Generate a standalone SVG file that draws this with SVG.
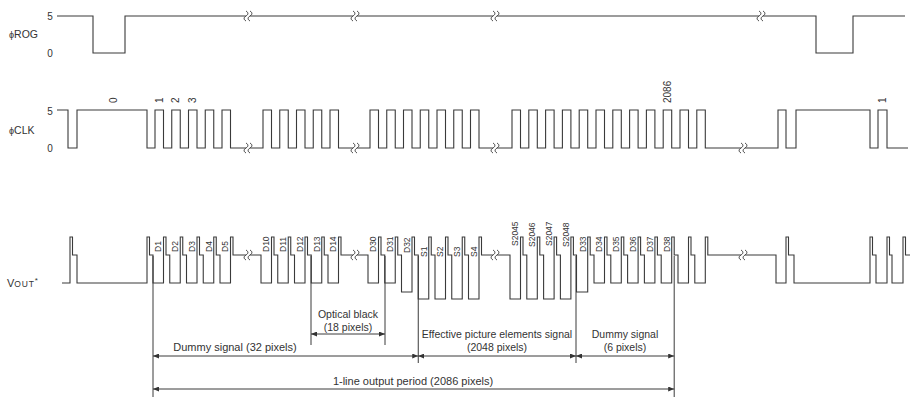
<svg xmlns="http://www.w3.org/2000/svg" width="912" height="398" viewBox="0 0 912 398">
<style>
.w{fill:none;stroke:#3a3a3a;stroke-width:1.1;stroke-linejoin:miter}
.t{font-family:"Liberation Sans",Arial,sans-serif;fill:#333}
.lv{font-size:10px;text-anchor:middle}
.sig{font-size:10.5px}
.n{font-size:10px}
.p{font-size:8.5px}
.dim{font-size:10.5px;text-anchor:middle}
.br{fill:none;stroke:#3a3a3a;stroke-width:1}
.gap{fill:#fff;stroke:none}
.ext{stroke:#3a3a3a;stroke-width:1}
.arr{stroke:#3a3a3a;stroke-width:1;marker-start:url(#ah);marker-end:url(#ah)}
</style>
<defs>
<marker id="ah" viewBox="0 0 6 5" refX="6" refY="2.5" markerWidth="6" markerHeight="5" markerUnits="userSpaceOnUse" orient="auto-start-reverse"><path d="M0,0 L6,2.5 L0,5 z" fill="#333"/></marker>
<g id="brk"><rect class="gap" x="-2.2" y="-2" width="4.4" height="4"/><path class="br" d="M-2,-5 c2.5,1.5 2.5,3.5 0,5 c-2.5,1.5 -2.5,3.5 0,5 M2,-5 c2.5,1.5 2.5,3.5 0,5 c-2.5,1.5 -2.5,3.5 0,5"/></g>
</defs>
<rect width="912" height="398" fill="#fff"/>

<g id="rog">
<text class="t sig" x="9" y="38"><tspan font-size="9">ϕ</tspan>ROG</text>
<text class="t lv" x="50" y="19.6">5</text>
<text class="t lv" x="50" y="56.6">0</text>
<path class="w" d="M57,16 H93 V53 H125 V16 H816 V53 H853 V16 H905"/>
<use href="#brk" x="248" y="16"/><use href="#brk" x="355" y="16"/><use href="#brk" x="495" y="16"/><use href="#brk" x="761" y="16"/>
</g>

<g id="clk">
<text class="t sig" x="9" y="134"><tspan font-size="9">ϕ</tspan>CLK</text>
<text class="t lv" x="50" y="114.6">5</text>
<text class="t lv" x="50" y="151.6">0</text>
<path class="w" d="M57,110 H68 V148 H77 V110 H147 V148
H155 V110 H163.5 V148 H171.75 V110 H180.25 V148 H188.5 V110 H197 V148 H205.25 V110 H213.75 V148 H222 V110 H230.5 V148
H263 V110 H271.5 V148 H279.75 V110 H288.25 V148 H296.5 V110 H305 V148 H313.25 V110 H321.75 V148 H330 V110 H338.5 V148
H370 V110 H378.5 V148 H386.75 V110 H395.25 V148 H403.5 V110 H412 V148 H420.25 V110 H428.75 V148 H437 V110 H445.5 V148 H453.75 V110 H462.25 V148 H470.5 V110 H479 V148
H512 V110 H520.5 V148 H528.8 V110 H537.3 V148 H545.6 V110 H554.1 V148 H562.4 V110 H570.9 V148 H579.2 V110 H587.7 V148 H596 V110 H604.5 V148 H612.8 V110 H621.3 V148 H629.6 V110 H638.1 V148 H646.4 V110 H654.9 V148 H663.2 V110 H671.7 V148 H680 V110 H688.5 V148 H696.8 V110 H705.3 V148
H778 V110 H786 V148 H796 V110 H870 V148 H878 V110 H887 V148 H908"/>
<use href="#brk" x="248" y="148"/><use href="#brk" x="355" y="148"/><use href="#brk" x="495" y="148"/><use href="#brk" x="743" y="148"/>
<g class="t n">
<text transform="translate(116.6,103) rotate(-90)">0</text>
<text transform="translate(162.6,103) rotate(-90)">1</text>
<text transform="translate(179,103) rotate(-90)">2</text>
<text transform="translate(196.3,103) rotate(-90)">3</text>
<text transform="translate(671,103) rotate(-90)">2086</text>
<text transform="translate(886,103) rotate(-90)">1</text>
</g>
</g>

<g id="vout">
<text class="t" x="7" y="286.5" font-size="11">V<tspan font-size="8.5" letter-spacing="0.8">OUT</tspan><tspan font-size="8" dy="-4">*</tspan></text>
<path class="w" d="M62,283 H70 V237 H72.5 V255 H77 V283 H147 V237 H149.5 V255 H153 V283
H163.5 V237 H166 V255 H169.75 V283
H180.25 V237 H182.75 V255 H186.5 V283
H197 V237 H199.5 V255 H203.25 V283
H213.75 V237 H216.25 V255 H220 V283
H230.5 V237 H233 V255 H261 V283
H271.5 V237 H274 V255 H277.75 V283
H288.25 V237 H290.75 V255 H294.5 V283
H305 V237 H307.5 V255 H311.25 V283
H321.75 V237 H324.25 V255 H328 V283
H338.5 V237 H341 V255 H368 V283
H378.5 V237 H381 V255 H384.75 V283
H395.25 V237 H397.75 V255 H401.5 V292
H412 V237 H414.5 V255 H418.25 V299
H428.75 V237 H431.25 V255 H435 V299
H445.5 V237 H448 V255 H451.75 V299
H462.25 V237 H464.75 V255 H468.5 V299
H479 V237 H481.5 V255 H510 V299
H520.5 V237 H523 V255 H526.8 V299
H537.3 V237 H539.8 V255 H543.6 V299
H554.1 V237 H556.6 V255 H560.4 V299
H570.9 V237 H573.4 V255 H576.5 V292
H587.7 V237 H590.2 V255 H594 V283
H604.5 V237 H607 V255 H610.8 V283
H621.3 V237 H623.8 V255 H627.6 V283
H638.1 V237 H640.6 V255 H644.4 V283
H654.9 V237 H657.4 V255 H661.2 V283
H671.7 V237 H674.2 V255 H678 V283
H688.5 V237 H691 V255 H694.8 V283
H705.3 V237 H707.8 V255 H776 V283
H786 V237 H788.5 V255 H794 V283
H870 V237 H872.5 V255 H876 V283
H887 V237 H889.5 V255 H892 V283
H903 V237 H905.5 V255 H910"/>
<use href="#brk" x="248" y="255"/><use href="#brk" x="355" y="255"/><use href="#brk" x="495" y="255"/><use href="#brk" x="743" y="255"/>
<g class="t p">
<text transform="translate(161.3,252) rotate(-90)">D1</text>
<text transform="translate(178,252) rotate(-90)">D2</text>
<text transform="translate(194.8,252) rotate(-90)">D3</text>
<text transform="translate(211.5,252) rotate(-90)">D4</text>
<text transform="translate(228.3,252) rotate(-90)">D5</text>
<text transform="translate(269.3,252) rotate(-90)">D10</text>
<text transform="translate(286,252) rotate(-90)">D11</text>
<text transform="translate(302.8,252) rotate(-90)">D12</text>
<text transform="translate(319.5,252) rotate(-90)">D13</text>
<text transform="translate(336.3,252) rotate(-90)">D14</text>
<text transform="translate(376.3,252) rotate(-90)">D30</text>
<text transform="translate(393,252) rotate(-90)">D31</text>
<text transform="translate(409.8,253) rotate(-90)">D32</text>
<text transform="translate(426.5,257) rotate(-90)">S1</text>
<text transform="translate(443.3,257) rotate(-90)">S2</text>
<text transform="translate(460,257) rotate(-90)">S3</text>
<text transform="translate(476.8,257) rotate(-90)">S4</text>
<text transform="translate(518.3,246) rotate(-90)">S2045</text>
<text transform="translate(535,247) rotate(-90)">S2046</text>
<text transform="translate(551.9,246) rotate(-90)">S2047</text>
<text transform="translate(568.7,247) rotate(-90)">S2048</text>
<text transform="translate(585.5,252) rotate(-90)">D33</text>
<text transform="translate(602.3,252) rotate(-90)">D34</text>
<text transform="translate(619.1,252) rotate(-90)">D35</text>
<text transform="translate(635.9,252) rotate(-90)">D36</text>
<text transform="translate(652.7,252) rotate(-90)">D37</text>
<text transform="translate(669.5,252) rotate(-90)">D38</text>
</g>
</g>

<g id="dimensions">
<line class="ext" x1="153" y1="256" x2="153" y2="397"/>
<line class="ext" x1="311" y1="256" x2="311" y2="345"/>
<line class="ext" x1="385" y1="256" x2="385" y2="345"/>
<line class="ext" x1="418.25" y1="256" x2="418.25" y2="363"/>
<line class="ext" x1="576" y1="256" x2="576" y2="363"/>
<line class="ext" x1="674.2" y1="256" x2="674.2" y2="397"/>
<line class="arr" x1="311" y1="334" x2="385" y2="334"/>
<line class="arr" x1="153" y1="356" x2="418.25" y2="356"/>
<line class="arr" x1="418.25" y1="356" x2="576" y2="356"/>
<line class="arr" x1="576" y1="356" x2="674.2" y2="356"/>
<line class="arr" x1="153" y1="389" x2="674.2" y2="389"/>
<g class="t dim">
<text x="348" y="318">Optical black</text>
<text x="348" y="331">(18 pixels)</text>
<text x="235" y="351" font-size="11">Dummy signal (32 pixels)</text>
<text x="497" y="338">Effective picture elements signal</text>
<text x="497" y="351">(2048 pixels)</text>
<text x="625" y="338">Dummy signal</text>
<text x="625" y="351">(6 pixels)</text>
<text x="413" y="385" font-size="11">1-line output period (2086 pixels)</text>
</g>
</g>
</svg>
